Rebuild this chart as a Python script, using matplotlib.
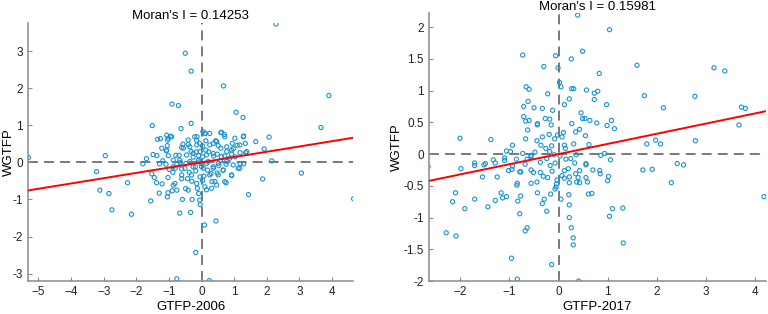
import matplotlib.pyplot as plt
import numpy as np

plt.rcParams['font.family'] = ['Liberation Sans', 'DejaVu Sans']

# 2006 panel: standardized GTFP vs spatial lag WGTFP
x2006 = [2.28, -0.50, -0.32, 0.67, 3.90, -0.91, -0.71, 1.06, 1.27, -1.51, -0.32, -0.63,
         3.66, 2.07, 1.66, 1.92, 2.15, -5.31, -2.95, -3.22, -2.27, -3.12, -2.84, 3.06,
         1.87, 1.44, 4.66, -2.75, -2.15, -1.56, -0.67, -0.34, -0.29, -0.06, -0.04, 0.09,
         0.44, -0.18, -0.76, 0.24, -1.80, -1.69, -1.49, -1.53, -1.45, -1.38, -1.21, -1.30,
         -1.03, -1.03, -1.05, -0.90, -0.87, -0.59, -0.76, -0.49, -0.43, -0.61, -0.13, -0.09,
         0.15, 0.31, 0.46, 0.75, 0.92, 1.12, 1.29, 1.18, 1.03, 1.18, 1.35, 1.34,
         1.29, 0.94, 1.09, 0.59, 0.70, 0.04, 0.25, -1.07, -0.95, -1.04, -1.35, -1.26,
         -1.22, -1.08, -1.05, -0.79, -1.02, -0.76, -1.09, -1.19, -0.99, -0.88, -0.81, -0.69,
         -0.61, -0.57, -0.41, -0.32, -0.26, -0.16, -0.48, -0.61, -0.38, -0.18, 0.07, 0.29,
         0.48, 0.66, 0.58, 0.37, 0.22, 0.36, 0.43, 0.13, 0.03, -0.06, -0.15, 0.03,
         -0.08, 0.00, 0.15, -0.19, 0.71, 0.86, 0.97, 0.92, 0.77, 0.59, 0.51, 0.18,
         0.36, -0.30, 0.03, 0.32, -0.01, -0.09, 0.13, 0.48, 0.53, 0.75, -0.65, -0.87,
         -1.37, -1.29, 0.12, -0.14,
         -1.02, -0.92, -1.07, -0.41, -0.21, 0.10, 0.61, 0.71, 1.02, 1.28, 1.17, 1.38,
         -0.56, -0.36, -0.15, 0.25, 0.46, 0.77, 0.92, -0.46, -0.26, -0.05, 0.15, 0.36,
         0.61, -0.67, -0.36, -0.10, 0.20, 0.51, 0.77, -0.87, -0.51, -0.26, 0.05, 0.36,
         0.66, 0.97, 1.17, -0.61, -0.31, -0.05, 0.25, 0.51, 0.92, -0.82, -0.15, 0.41,
         0.71, 0.10, -0.41]
y2006 = [3.73, 2.94, 2.46, 2.06, 1.80, 1.57, 1.53, 1.35, 1.21, 0.99, 1.05, 0.91,
         0.94, 0.68, 0.56, 0.36, 0.04, 0.13, 0.18, -0.25, -0.55, -0.75, -0.84, -0.29,
         -0.45, -0.87, -0.98, -1.28, -1.40, -1.04, -1.37, -1.35, -1.00, -1.02, -1.14, -1.69,
         -1.58, -2.43, -3.14, -3.19, -0.04, 0.10, 0.21, -0.31, -0.41, -0.55, -0.58, -0.83,
         -0.82, -0.41, -0.93, -0.77, -0.62, -1.00, -0.75, -0.71, -0.44, -0.44, -0.70, -0.84,
         -0.74, -0.70, -0.61, -0.55, -0.36, -0.16, -0.04, -0.03, 0.15, 0.26, 0.26, 0.51,
         0.71, 0.51, 0.46, 0.80, 0.75, 0.83, 0.78, 0.73, 0.70, 0.60, 0.62, 0.64,
         0.38, 0.31, 0.45, 0.19, 0.18, -0.05, -0.05, 0.04, -0.19, -0.27, -0.16, 0.19,
         0.40, 0.49, 0.48, 0.29, 0.14, 0.28, -0.03, -0.18, -0.27, -0.23, -0.37, -0.30,
         -0.29, -0.21, 0.04, 0.17, 0.28, 0.51, 0.58, 0.58, 0.44, 0.51, 0.59, 0.15,
         0.01, -0.12, -0.03, -0.12, 0.17, 0.11, 0.37, 0.22, 0.29, 0.38, 0.45, -0.21,
         -0.16, -0.51, -0.49, -0.52, -0.03, 0.18, 0.33, 0.22, -0.09, -0.05, 0.00, 0.06,
         0.18, -0.04, 0.78, 0.69,
         0.65, 0.69, 0.33, 0.60, 0.69, 0.78, 0.81, 0.69, 0.65, 0.69, 0.47, 0.29,
         0.38, 0.42, 0.47, 0.47, 0.56, 0.42, 0.33, 0.20, 0.24, 0.29, 0.20, 0.24,
         0.15, 0.06, 0.02, 0.06, 0.02, -0.03, 0.02, -0.12, -0.16, -0.12, -0.16, -0.12,
         -0.21, -0.07, -0.16, -0.34, -0.34, -0.39, -0.34, -0.34, -0.34, -0.57, -0.57, -0.52,
         -0.52, -0.66, -0.75]

# 2017 panel
x2017 = [0.39, 1.04, 0.49, -0.73, -0.06, 0.26, 1.60, 3.17, 3.39, -0.30, -0.01, 0.83,
         0.02, 0.05, -0.66, -0.60, 0.27, 0.31, 0.57, 0.80, 0.73, -0.22, 1.75, 2.78,
         0.22, 0.73, -0.62, 0.12, 0.98, -0.71, 3.73, 3.81, 2.14, -0.50, -0.33, -0.12,
         0.46, -0.71, -0.60, -0.27, -0.18, 0.49, 0.54, 0.64, 1.08, 0.78, 0.27, 0.99,
         3.68, 1.14, -0.43, -0.43, -0.15, 0.43, 0.35, -0.67, -0.63, 0.55, -0.67, -1.38,
         -2.01, 2.79, 1.98, 2.08, 1.80, -0.94, -1.06, -0.98, -0.73, -0.56, -0.56, -0.48,
         0.62, 0.86, 0.94, -2.66, -1.99, -1.71, -1.71, -1.52, -1.49, -1.55, -1.33, -1.29,
         -1.25, -1.10, -1.10, -1.02, -0.94, -0.95, -0.86, -0.77, -0.79, -0.84, -0.56, -0.44,
         -0.43, -1.17, -1.14, -1.06, -1.29, -1.71, -2.10, -2.16, -1.91, -1.44, -0.85, -0.77,
         -0.83, -0.79, -0.64, -0.68, -2.29, -2.09, -0.96, -0.84, -0.14, 0.41, 0.30, 0.30,
         0.26, 0.22, 0.22, 0.21, -0.24, -0.33, -0.29, -0.16, -0.07, -0.04, -0.05, 0.05,
         0.22, 0.43, 0.37, 0.56, 0.68, 0.61, 1.31, 1.32, 1.04, 1.10, 1.02, 1.00,
         0.84, 0.85, 0.70, 0.56, 0.56, 1.06, 1.72, 1.91, 2.30, 2.42, 2.55, 4.19,
         0.36, 0.31, 0.14, -0.02, 0.07, -0.08, -0.14, -0.26, -0.36, -0.44, -0.33, -0.19,
         0.10, 0.15, 0.25, 0.33, 0.43, 0.35, 0.20, 0.12, 0.07, -0.13, -0.22, -0.31,
         -0.37, -0.51, -0.56, -0.68, -0.64, -0.37, -0.24, -0.17, -0.07, 0.03, -0.09, -0.18,
         0.12, 0.22, 0.12, -0.03, 0.59, 0.40]
y2017 = [2.19, 1.96, 1.62, 1.56, 1.55, 1.50, 1.40, 1.36, 1.31, 1.38, 1.36, 1.27,
         1.13, 1.06, 1.06, 1.02, 1.03, 1.03, 1.01, 0.99, 0.96, 0.95, 0.92, 0.91,
         0.87, 0.86, 0.83, 0.78, 0.78, 0.75, 0.74, 0.72, 0.73, 0.73, 0.72, 0.69,
         0.65, 0.59, 0.53, 0.56, 0.55, 0.56, 0.56, 0.53, 0.53, 0.49, 0.48, 0.45,
         0.46, 0.40, 0.46, 0.48, 0.46, 0.39, 0.35, 0.52, 0.38, 0.29, 0.24, 0.23,
         0.25, 0.21, 0.22, 0.16, 0.16, 0.14, 0.05, 0.04, 0.01, -0.02, -0.04, 0.03,
         0.15, -0.02, 0.01, -0.20, -0.23, -0.14, -0.18, -0.17, -0.15, -0.36, -0.09, -0.14,
         -0.36, -0.06, -0.10, -0.26, -0.19, -0.24, -0.08, -0.28, -0.28, -0.46, -0.46, -0.44,
         -0.61, -0.61, -0.69, -0.67, -0.73, -0.71, -0.61, -0.75, -0.86, -0.83, -0.49, -0.66,
         -0.74, -0.94, -1.16, -1.21, -1.24, -1.29, -1.64, -1.97, -1.74, -2.00, -1.43, -1.32,
         -1.16, -1.00, -0.80, -0.64, -0.90, -0.78, -0.71, -0.63, -0.55, -0.47, -0.52, -0.71,
         -0.45, -0.45, -0.44, -0.37, -0.62, -0.63, -0.85, -1.40, -0.98, -0.86, -0.35, -0.42,
         -0.26, -0.31, -0.25, -0.15, -0.17, -0.09, -0.25, -0.24, -0.45, -0.15, -0.17, -0.67,
         -0.01, 0.16, 0.09, 0.30, 0.27, 0.24, 0.13, 0.09, 0.14, 0.21, 0.27, 0.31,
         0.34, -0.08, -0.07, -0.14, -0.26, -0.31, -0.23, -0.26, -0.34, -0.27, -0.37, -0.35,
         -0.29, -0.29, -0.25, -0.16, -0.08, -0.13, -0.07, -0.18, -0.14, -0.03, -0.01, 0.04,
         0.14, -0.36, -0.38, -0.41, -0.44, -0.37]

moran_i = [0.14253, 0.15981]
years = ['2006', '2017']
xlims = [(-5.32, 4.65), (-2.65, 4.24)]
ylims = [(-3.2, 3.75), (-2.0, 2.22)]
xticks = [np.arange(-5, 5), np.arange(-2, 5)]
yticks = [np.arange(-3, 4), np.arange(-2, 2.01, 0.5)]


def moran_panel(ax, xs, ys, mi, year, xlim, ylim, xt, yt, ylab_x, title_pad):
    ax.axhline(0, color='#555555', lw=1.1, dashes=(6.5, 4), zorder=1)
    ax.axvline(0, color='#555555', lw=1.1, dashes=(6.5, 4), zorder=1)
    ax.scatter(xs, ys, s=9, facecolors='none', edgecolors='#1a94d2', linewidths=0.8, zorder=2)
    xx = np.array(xlim)
    ax.plot(xx, mi * xx, color='red', lw=1.4, zorder=3)
    ax.set_xlim(xlim)
    ax.set_ylim(ylim)
    ax.set_xticks(xt)
    ax.set_yticks(yt)
    ax.set_yticklabels(['%g' % v for v in yt])
    ax.spines['top'].set_visible(False)
    ax.spines['right'].set_visible(False)
    for s in ['left', 'bottom']:
        ax.spines[s].set_color('#8a8a8a')
        ax.spines[s].set_linewidth(1.1)
    ax.tick_params(direction='in', length=3, width=0.8, color='#8a8a8a',
                   labelsize=8.5, labelcolor='#222222')
    ax.set_xlabel('GTFP-' + year, fontsize=9.5, labelpad=2)
    ax.set_ylabel('WGTFP', fontsize=9.5)
    ax.yaxis.set_label_coords(ylab_x, 0.5)
    ax.set_title("Moran's I = %.5f" % mi, fontsize=9.5, pad=title_pad)


fig = plt.figure(figsize=(7.68, 3.14), dpi=100)
ax1 = fig.add_axes([0.0365, 0.105, 0.4235, 0.821])
ax2 = fig.add_axes([0.558, 0.105, 0.440, 0.853])
moran_panel(ax1, x2006, y2006, moran_i[0], years[0], xlims[0], ylims[0],
            xticks[0], yticks[0], -0.04, 3)
moran_panel(ax2, x2017, y2017, moran_i[1], years[1], xlims[1], ylims[1],
            xticks[1], yticks[1], -0.075, -1)

plt.savefig('out.png', dpi=100)
